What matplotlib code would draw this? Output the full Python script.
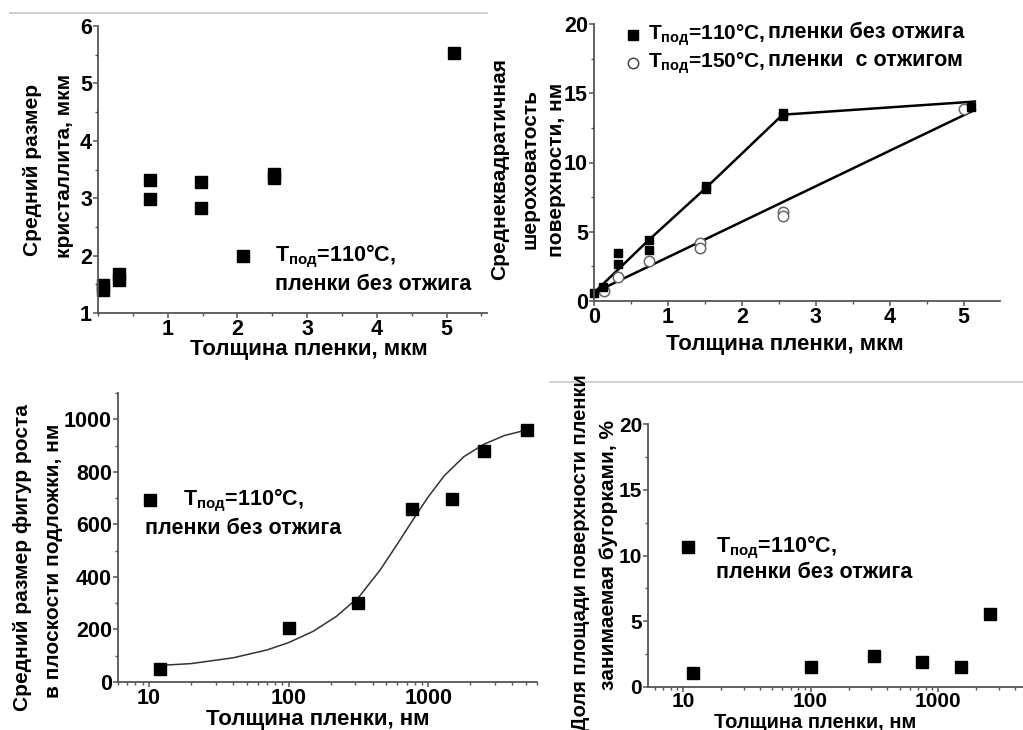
import matplotlib
matplotlib.use("Agg")
import matplotlib.pyplot as plt
from matplotlib.ticker import MultipleLocator, FixedLocator, NullFormatter, LogLocator, FixedFormatter
from matplotlib.lines import Line2D

plt.rcParams['font.family'] = ['Liberation Sans', 'DejaVu Sans']
plt.rcParams['font.weight'] = 'bold'
plt.rcParams['mathtext.default'] = 'regular'

# ---------- data ----------
# panel 1: crystallite size vs thickness (um)
p1_x = [0.07, 0.07, 0.30, 0.30, 0.74, 0.74, 1.48, 1.48, 2.53, 2.53, 5.10]
p1_y = [1.40, 1.48, 1.58, 1.68, 3.32, 2.99, 3.29, 2.83, 3.43, 3.35, 5.53]

# panel 2: RMS roughness vs thickness (um)
p2_sq_x = [0.00, 0.12, 0.32, 0.32, 0.74, 0.74, 1.52, 1.52, 2.55, 2.55, 5.10]
p2_sq_y = [0.60, 1.00, 2.70, 3.50, 4.40, 3.65, 8.10, 8.30, 13.35, 13.55, 14.00]
p2_ci_x = [0.13, 0.32, 0.74, 1.43, 1.43, 2.55, 2.55, 5.00]
p2_ci_y = [0.73, 1.75, 2.90, 4.20, 3.85, 6.40, 6.15, 13.85]
p2_fit1_x = [0.00, 0.74, 1.52, 2.55, 5.15]
p2_fit1_y = [0.60, 4.40, 8.20, 13.45, 14.40]
p2_fit2_x = [0.00, 5.15]
p2_fit2_y = [0.60, 13.80]

# panel 3: growth figure size vs thickness (nm)
p3_x = [12, 100, 316, 760, 1480, 2500, 5100]
p3_y = [50, 205, 300, 658, 698, 880, 960]
p3_fit_x = [11, 20, 40, 70, 100, 150, 220, 320, 450, 600, 800, 1000, 1300, 1800, 2500, 3500, 5100]
p3_fit_y = [62, 70, 92, 122, 150, 193, 250, 325, 425, 525, 628, 705, 785, 858, 905, 938, 960]

# panel 4: area fraction vs thickness (nm)
p4_x = [12, 100, 316, 750, 1515, 2560]
p4_y = [1.05, 1.5, 2.35, 1.9, 1.5, 5.55]

legend_T110 = 'T$_{\\mathregular{под}}$=110°C,'
legend_T150 = 'T$_{\\mathregular{под}}$=150°C,'
legend_noann = 'пленки без отжига'
legend_ann = 'пленки  с отжигом'
xlabel_um = 'Толщина пленки, мкм'
xlabel_nm = 'Толщина пленки, нм'

# ---------- figure ----------
W, H = 1023, 730
fig = plt.figure(figsize=(W / 100, H / 100), dpi=100)
fig.patch.set_facecolor('white')

FS = 15.5
LFS = 15.5
SPINE = '#555555'


def px_axes(l, r, t, b):
    return fig.add_axes([l / W, 1 - b / H, (r - l) / W, (b - t) / H])


def style(ax, fs=FS):
    for s in ['top', 'right']:
        ax.spines[s].set_visible(False)
    for s in ['left', 'bottom']:
        ax.spines[s].set_color(SPINE)
        ax.spines[s].set_linewidth(1.3)
    ax.tick_params(which='major', direction='out', length=3.5, width=1.1, color=SPINE,
                   labelsize=fs, pad=0.8)
    ax.tick_params(which='minor', direction='out', length=2.2, width=1.0, color=SPINE)
    for lab in ax.get_xticklabels() + ax.get_yticklabels():
        lab.set_fontweight('bold')
    ax.patch.set_alpha(0)


def ftext(x, y, s, **kw):
    kw.setdefault('fontsize', 15)
    kw.setdefault('fontweight', 'bold')
    return fig.text(x / W, 1 - y / H, s, **kw)


# separator lines
fig.add_artist(Line2D([10 / W, 487 / W], [1 - 13 / H, 1 - 13 / H], color='#c8c8c8', lw=1.2))
fig.add_artist(Line2D([550 / W, 1023 / W], [1 - 382 / H, 1 - 382 / H], color='#c8c8c8', lw=1.2))

# ---- panel 1 ----
ax1 = px_axes(98, 487, 26, 313)
ax1.plot(p1_x, p1_y, 's', color='black', ms=8, clip_on=False)
ax1.set_xlim(0, 5.58)
ax1.set_ylim(1, 6)
ax1.xaxis.set_major_locator(FixedLocator([1, 2, 3, 4, 5]))
ax1.xaxis.set_minor_locator(MultipleLocator(0.5))
ax1.yaxis.set_major_locator(MultipleLocator(1))
ax1.yaxis.set_minor_locator(MultipleLocator(0.5))
style(ax1)
ftext(33, 170, 'Средний размер', rotation=90, ha='center', va='center')
ftext(65, 166, 'кристаллита, мкм', rotation=90, ha='center', va='center')
ftext(309, 349, xlabel_um, ha='center', va='center', fontsize=16)
fig.add_artist(Line2D([243 / W], [1 - 256 / H], marker='s', color='black', ms=9, ls=''))
ftext(275, 256, legend_T110, ha='left', va='center', fontsize=LFS)
ftext(275, 285, legend_noann, ha='left', va='center', fontsize=LFS)

# ---- panel 2 ----
ax2 = px_axes(594, 1000, 24, 301)
ax2.plot(p2_fit1_x, p2_fit1_y, '-', color='black', lw=1.8)
ax2.plot(p2_fit2_x, p2_fit2_y, '-', color='black', lw=1.8)
ax2.plot(p2_ci_x, p2_ci_y, 'o', mfc='white', mec='#666666', mew=1.1, ms=7.5, clip_on=False)
ax2.plot(p2_sq_x, p2_sq_y, 's', color='black', ms=5.5, clip_on=False)
ax2.set_xlim(0, 5.49)
ax2.set_ylim(0, 20)
ax2.xaxis.set_major_locator(FixedLocator([0, 1, 2, 3, 4, 5]))
ax2.xaxis.set_minor_locator(MultipleLocator(0.5))
ax2.yaxis.set_major_locator(MultipleLocator(5))
ax2.yaxis.set_minor_locator(MultipleLocator(2.5))
style(ax2)
ftext(500, 169, 'Среднеквадратичная', rotation=90, ha='center', va='center')
ftext(530, 169, 'шероховатость', rotation=90, ha='center', va='center')
ftext(556, 170, 'поверхности, нм', rotation=90, ha='center', va='center')
ftext(785, 344, xlabel_um, ha='center', va='center', fontsize=16)
fig.add_artist(Line2D([633 / W], [1 - 35 / H], marker='s', color='black', ms=7, ls=''))
fig.add_artist(Line2D([633 / W], [1 - 63 / H], marker='o', mfc='white', mec='#444444', mew=1.1, ms=7.5, ls=''))
ftext(648, 35, legend_T110, ha='left', va='center', fontsize=15)
ftext(768, 33, legend_noann, ha='left', va='center', fontsize=15.5)
ftext(648, 63, legend_T150, ha='left', va='center', fontsize=15)
ftext(768, 61, legend_ann, ha='left', va='center', fontsize=15.5)

# ---- panel 3 ----
ax3 = px_axes(118, 537, 393, 682)
ax3.plot(p3_fit_x, p3_fit_y, '-', color='#333333', lw=1.1)
ax3.plot(p3_x, p3_y, 's', color='black', ms=8, clip_on=False)
ax3.set_xscale('log')
ax3.set_xlim(6.0, 6000)
ax3.set_ylim(0, 1100)
ax3.xaxis.set_major_locator(FixedLocator([10, 100, 1000]))
ax3.xaxis.set_major_formatter(FixedFormatter(['10', '100', '1000']))
ax3.xaxis.set_minor_locator(LogLocator(base=10, subs=range(2, 10), numticks=20))
ax3.xaxis.set_minor_formatter(NullFormatter())
ax3.yaxis.set_major_locator(MultipleLocator(200))
ax3.yaxis.set_minor_locator(MultipleLocator(100))
style(ax3)
ftext(23, 558, 'Средний размер фигур роста', rotation=90, ha='center', va='center')
ftext(54, 561, 'в плоскости подложки, нм', rotation=90, ha='center', va='center')
ftext(318, 720, xlabel_nm, ha='center', va='center', fontsize=16)
fig.add_artist(Line2D([150 / W], [1 - 500 / H], marker='s', color='black', ms=9, ls=''))
ftext(183, 500, legend_T110, ha='left', va='center', fontsize=LFS)
ftext(145, 528, legend_noann, ha='left', va='center', fontsize=LFS)

# ---- panel 4 ----
ax4 = px_axes(648, 1037, 424, 687)
ax4.plot(p4_x, p4_y, 's', color='black', ms=8, clip_on=False)
ax4.set_xscale('log')
ax4.set_xlim(5.3, 6000)
ax4.set_ylim(0, 20)
ax4.xaxis.set_major_locator(FixedLocator([10, 100, 1000]))
ax4.xaxis.set_major_formatter(FixedFormatter(['10', '100', '1000']))
ax4.xaxis.set_minor_locator(LogLocator(base=10, subs=range(2, 10), numticks=20))
ax4.xaxis.set_minor_formatter(NullFormatter())
ax4.yaxis.set_major_locator(MultipleLocator(5))
ax4.yaxis.set_minor_locator(MultipleLocator(2.5))
style(ax4, fs=15)
ax4.tick_params(axis='x', which='major', pad=0.3)
ftext(581, 553, 'Доля площади поверхности пленки', rotation=90, ha='center', va='center', fontsize=14.5)
ftext(609, 555, 'занимаемая бугорками, %', rotation=90, ha='center', va='center')
ftext(815, 722, xlabel_nm, ha='center', va='center', fontsize=14.5)
fig.add_artist(Line2D([688 / W], [1 - 547 / H], marker='s', color='black', ms=9, ls=''))
ftext(716, 547, legend_T110, ha='left', va='center', fontsize=LFS)
ftext(716, 573, legend_noann, ha='left', va='center', fontsize=LFS)

fig.savefig('out.png', dpi=100, facecolor='white')
